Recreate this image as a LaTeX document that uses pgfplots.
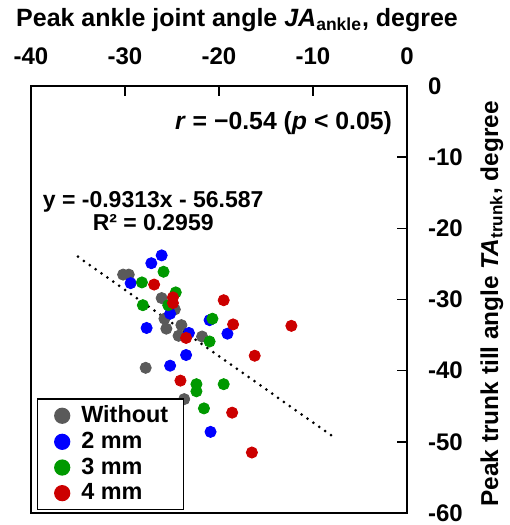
\documentclass[border=0pt]{standalone}
\usepackage{fontspec}
\setmainfont{Liberation Sans}
\usepackage{pgfplots}
\pgfplotsset{compat=1.18}

\definecolor{cgray}{RGB}{90,90,90}
\definecolor{cblue}{RGB}{0,0,255}
\definecolor{cgreen}{RGB}{0,153,0}
\definecolor{cred}{RGB}{204,0,0}

\pgfplotsset{
    dot/.style={only marks, mark=*, mark size=2.8pt, color=#1, fill=#1,
        legend image code/.code={\path (0pt,0pt) (9.5pt,0pt);
            \fill (6.4pt,0pt) circle (3.75pt);}},
}

\begin{document}
\begin{tikzpicture}
\begin{axis}[
    width=188pt, height=213.5pt,
    scale only axis,
    xmin=-40, xmax=0,
    ymin=-60, ymax=0,
    xtick={-40,-30,-20,-10,0},
    ytick={0,-10,-20,-30,-40,-50,-60},
    xtick pos=upper, ytick pos=right,
    xticklabel pos=upper, yticklabel pos=right,
    tick align=inside,
    major tick length=5pt,
    axis line style={line width=0.9pt},
    tick style={black, line width=0.8pt},
    tick label style={font=\fontsize{12}{14}\selectfont\bfseries},
    label style={font=\fontsize{12.5}{15}\selectfont\bfseries},
    /pgf/number format/assume math mode=true,
    xticklabel style={yshift=7pt},
    yticklabel style={xshift=7pt},
    xlabel={Peak ankle joint angle \textit{JA}\textsubscript{ankle}, degree},
    xlabel style={at={(axis description cs:0.548,1)}, anchor=center, yshift=33pt},
    ylabel={Peak trunk till angle \textit{TA}\textsubscript{trunk}, degree},
    ylabel style={at={(axis description cs:1.226,0.49)}, anchor=center,
        font=\fontsize{12.2}{15}\selectfont\bfseries},
    legend style={at={(axis description cs:0.016,0.007)}, anchor=south west,
        draw=black, line width=0.6pt, row sep=0pt,
        inner xsep=5.6pt, inner ysep=1.75pt,
        nodes={inner ysep=1.6pt},
        font=\fontsize{11.7}{12.5}\selectfont\bfseries,
        /tikz/every odd column/.append style={column sep=3.5pt}},
    legend cell align=left,
]

% Without
\addplot[dot=cgray] coordinates {
    (-30.2,-26.5) (-29.6,-26.5) (-26.1,-29.8) (-24.7,-31.4) (-25.8,-32.7)
    (-25.6,-34.1) (-24.0,-33.6) (-24.3,-35.1) (-21.8,-35.2) (-27.8,-39.6)
    (-23.7,-44.0)
};
\addlegendentry{Without}

% 2 mm
\addplot[dot=cblue] coordinates {
    (-26.1,-23.8) (-27.2,-24.9) (-29.4,-27.7) (-25.2,-32.0) (-27.7,-34.0)
    (-23.2,-34.7) (-21.0,-32.9) (-19.1,-34.8) (-23.5,-37.8) (-25.2,-39.3)
    (-20.9,-48.6)
};
\addlegendentry{2 mm}

% 3 mm
\addplot[dot=cgreen] coordinates {
    (-25.9,-26.1) (-28.2,-27.6) (-24.6,-29.0) (-25.4,-30.8) (-28.1,-30.8)
    (-21.0,-35.9) (-20.7,-32.7) (-22.4,-41.9) (-22.4,-42.9) (-19.5,-41.9)
    (-21.6,-45.3)
};
\addlegendentry{3 mm}

% 4 mm
\addplot[dot=cred] coordinates {
    (-26.9,-27.9) (-24.9,-29.7) (-24.9,-30.5) (-23.5,-35.4) (-19.5,-30.1)
    (-18.5,-33.5) (-12.3,-33.7) (-16.2,-37.9) (-24.1,-41.4) (-18.6,-45.9)
    (-16.5,-51.5)
};
\addlegendentry{4 mm}

% linear fit
\addplot[black, no markers, line width=1.5pt, line cap=round,
    dash pattern=on 0pt off 3.6pt, forget plot] coordinates {
    (-35,-23.99) (-8,-49.14)
};

\node[anchor=east, font=\fontsize{12.4}{15}\selectfont\bfseries]
    at (axis cs:-0.85,-5.2) {\textit{r} = −0.54 (\textit{p} < 0.05)};
\node[align=center, font=\fontsize{11.5}{11.6}\selectfont\bfseries]
    at (axis cs:-27,-17.6) {y = -0.9313x - 56.587\\R² = 0.2959};

\end{axis}
\pgfresetboundingbox
\useasboundingbox (-15.5pt,-6pt) rectangle (239pt,256.5pt);
\end{tikzpicture}
\end{document}
